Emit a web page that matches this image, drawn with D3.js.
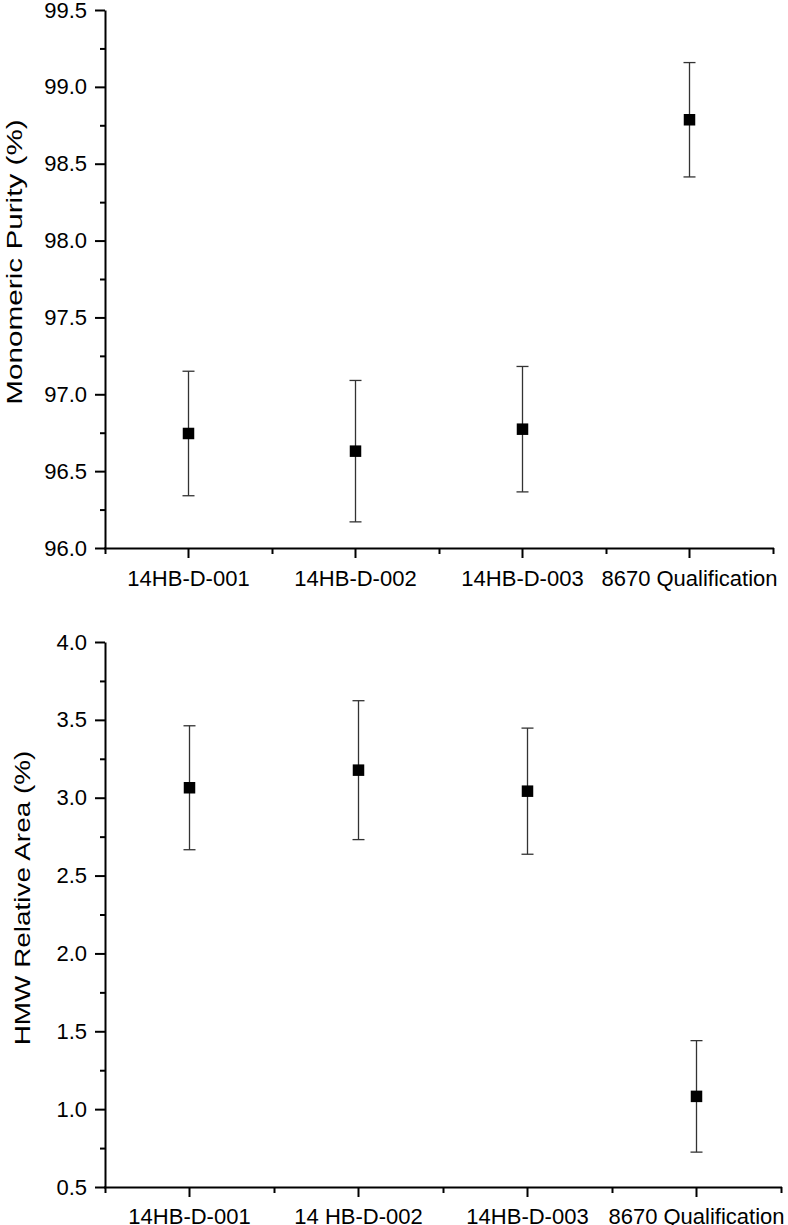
<!DOCTYPE html>
<html>
<head>
<meta charset="utf-8">
<script src="https://cdn.jsdelivr.net/npm/d3@7"></script>
<style>
  html, body { margin: 0; padding: 0; background: #fff; }
  svg { display: block; }
  text { font-family: "Liberation Sans", Arial, sans-serif; fill: #000; }
</style>
</head>
<body>
<svg id="chart" width="788" height="1225"></svg>
<script>
// ---- Data ----
const topCategories = ["14HB-D-001", "14HB-D-002", "14HB-D-003", "8670 Qualification"];
const topMeans      = [96.745, 96.630, 96.773, 98.786];
const topErrors     = [0.405, 0.460, 0.408, 0.372];
const topTicks      = [96.0, 96.5, 97.0, 97.5, 98.0, 98.5, 99.0, 99.5];
const topTitle      = "Monomeric Purity (%)";

const botCategories = ["14HB-D-001", "14 HB-D-002", "14HB-D-003", "8670 Qualification"];
const botMeans      = [3.064, 3.177, 3.042, 1.082];
const botErrors     = [0.398, 0.446, 0.405, 0.358];
const botTicks      = [0.5, 1.0, 1.5, 2.0, 2.5, 3.0, 3.5, 4.0];
const botTitle      = "HMW Relative Area (%)";

const svg = d3.select("#chart");

function panel(cfg) {
  const x = d3.scaleBand().domain(cfg.categories).range([cfg.x0, cfg.x1]).paddingInner(0).paddingOuter(0);
  const xb = d3.scaleLinear().domain([0, cfg.categories.length]).range([cfg.x0, cfg.x1]);
  const y = d3.scaleLinear().domain(cfg.yDomain).range([cfg.y0, cfg.y1]);
  const g = svg.append("g");

  // minor y ticks
  const minorY = [];
  for (let i = 0; i < cfg.ticks.length - 1; i++) minorY.push((cfg.ticks[i] + cfg.ticks[i + 1]) / 2);
  g.append("g").attr("transform", `translate(${cfg.x0},0)`)
    .call(d3.axisLeft(y).tickValues(minorY).tickSize(5).tickFormat(""))
    .call(s => s.select(".domain").remove())
    .call(s => s.selectAll("line").attr("stroke", "#000").attr("stroke-width", 2));

  // major y axis
  g.append("g").attr("transform", `translate(${cfg.x0},0)`)
    .call(d3.axisLeft(y).tickValues(cfg.ticks).tickSize(10).tickSizeOuter(0).tickPadding(8).tickFormat(d3.format(".1f")))
    .call(s => s.select(".domain").attr("stroke", "#000").attr("stroke-width", 2))
    .call(s => s.selectAll("line").attr("stroke", "#000").attr("stroke-width", 2))
    .call(s => s.selectAll("text").style("font-size", "22px").style("font-family", "Liberation Sans, Arial, sans-serif"));

  // minor x ticks (band boundaries)
  g.append("g").attr("transform", `translate(0,${cfg.y0})`)
    .call(d3.axisBottom(xb).tickValues(d3.range(cfg.categories.length + 1)).tickSize(6).tickFormat(""))
    .call(s => s.select(".domain").remove())
    .call(s => s.selectAll("line").attr("stroke", "#000").attr("stroke-width", 2));

  // major x axis
  g.append("g").attr("transform", `translate(0,${cfg.y0})`)
    .call(d3.axisBottom(x).tickSize(10).tickSizeOuter(0).tickPadding(cfg.xPad))
    .call(s => s.select(".domain").attr("stroke", "#000").attr("stroke-width", 2)
      .attr("d", `M${cfg.x0 - 1},0.5H${cfg.x1 + 1}`))
    .call(s => s.selectAll("line").attr("stroke", "#000").attr("stroke-width", 2))
    .call(s => s.selectAll("text").style("font-size", "22px").style("font-family", "Liberation Sans, Arial, sans-serif"));

  // y title (stretched along its length as in the reference)
  g.append("text")
    .attr("transform", `translate(${cfg.titleX},${cfg.titleY}) rotate(-90) scale(${cfg.titleStretch},1)`)
    .attr("text-anchor", "middle")
    .attr("dominant-baseline", "central")
    .style("font-size", "22px")
    .text(cfg.title);

  const cx = d => x(d) + x.bandwidth() / 2;
  const data = cfg.categories.map((c, i) => ({ c, m: cfg.means[i], e: cfg.errors[i] }));
  const cap = 6;
  const eb = g.append("g").attr("stroke", "#333").attr("stroke-width", 1.3);
  eb.selectAll("line.v").data(data).join("line").attr("class", "v")
    .attr("x1", d => cx(d.c)).attr("x2", d => cx(d.c))
    .attr("y1", d => y(d.m + d.e)).attr("y2", d => y(d.m - d.e));
  eb.selectAll("line.t").data(data).join("line").attr("class", "t")
    .attr("x1", d => cx(d.c) - cap).attr("x2", d => cx(d.c) + cap)
    .attr("y1", d => y(d.m + d.e)).attr("y2", d => y(d.m + d.e));
  eb.selectAll("line.b").data(data).join("line").attr("class", "b")
    .attr("x1", d => cx(d.c) - cap).attr("x2", d => cx(d.c) + cap)
    .attr("y1", d => y(d.m - d.e)).attr("y2", d => y(d.m - d.e));

  const sz = 11.5;
  g.append("g").selectAll("rect").data(data).join("rect")
    .attr("x", d => cx(d.c) - sz / 2).attr("y", d => y(d.m) - sz / 2)
    .attr("width", sz).attr("height", sz).attr("fill", "#000");
}

panel({ categories: topCategories, means: topMeans, errors: topErrors, ticks: topTicks,
        yDomain: [96.0, 99.5], x0: 105, x1: 773, y0: 548, y1: 10, xPad: 12,
        title: topTitle, titleX: 14, titleY: 262, titleStretch: 1.35 });
panel({ categories: botCategories, means: botMeans, errors: botErrors, ticks: botTicks,
        yDomain: [0.5, 4.0], x0: 105, x1: 781, y0: 1187, y1: 642, xPad: 11,
        title: botTitle, titleX: 22, titleY: 898, titleStretch: 1.27 });
</script>
</body>
</html>
